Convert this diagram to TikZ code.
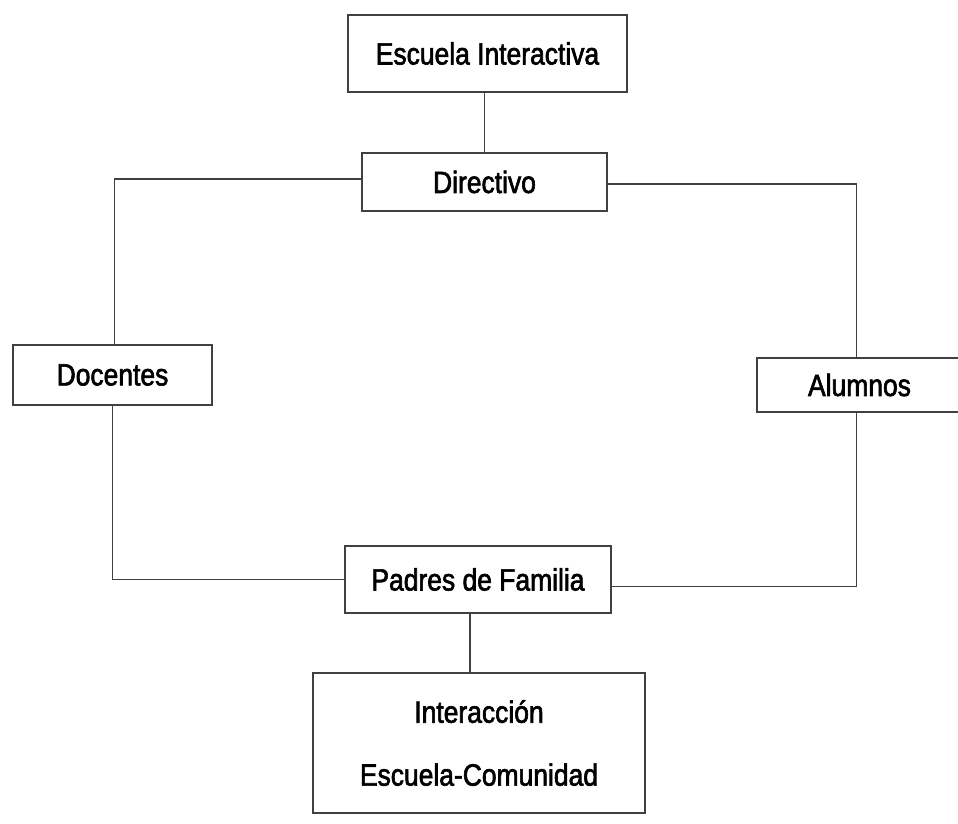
\documentclass[tikz,border=0pt]{standalone}
\usepackage{fontspec}
\setmainfont{Liberation Sans}[FakeStretch=0.86, FakeBold=2]
\usepackage{tikz}
\usetikzlibrary{positioning}

\begin{document}
\begin{tikzpicture}[
    x=0.02cm, y=-0.02cm,
    % Define the style for the boxes
    box/.style={
        rectangle,
        draw=black!75,
        line width=0.8pt,
        fill=white,
        align=center,
        inner sep=0pt,
        font=\fontsize{17.5}{21}\selectfont
    },
    % Define style for the plain connectors
    link/.style={
        draw=black!75,
        line width=0.8pt
    }
]
\useasboundingbox (0,0) rectangle (958,824);

% Top: the school
\node (escuela) [box, minimum width=279*0.02cm, minimum height=77*0.02cm] at (487.5,53.5) {Escuela Interactiva};

% Management
\node (directivo) [box, minimum width=245*0.02cm, minimum height=58*0.02cm] at (484.5,182) {Directivo};

% The two sides
\node (docentes) [box, minimum width=199*0.02cm, minimum height=60*0.02cm] at (112.5,375) {Docentes};
\node (alumnos) [box, minimum width=205*0.02cm, minimum height=54*0.02cm] at (859.5,385) {Alumnos};

% Parents
\node (padres) [box, minimum width=266*0.02cm, minimum height=67*0.02cm] at (478,579.5) {Padres de Familia};

% Bottom: the community
\node (interaccion) [box, minimum width=332*0.02cm, minimum height=140*0.02cm] at (479,743) {Interacción\\[0.52cm]Escuela-Comunidad};

% Draw the connectors
\draw [link] (directivo.north) -- (directivo.north |- escuela.south);
\draw [link] ([yshift=3*0.02cm]directivo.west) -| ([xshift=2*0.02cm]docentes.north);
\draw [link] ([yshift=-2*0.02cm]directivo.east) -| ([xshift=-3*0.02cm]alumnos.north);
\draw [link] (docentes.south) |- (padres.west);
\draw [link] ([xshift=-3*0.02cm]alumnos.south) |- ([yshift=-7*0.02cm]padres.east);
\draw [link] ([xshift=-8*0.02cm]padres.south) -- ([xshift=-8*0.02cm]padres.south |- interaccion.north);

\end{tikzpicture}
\end{document}
